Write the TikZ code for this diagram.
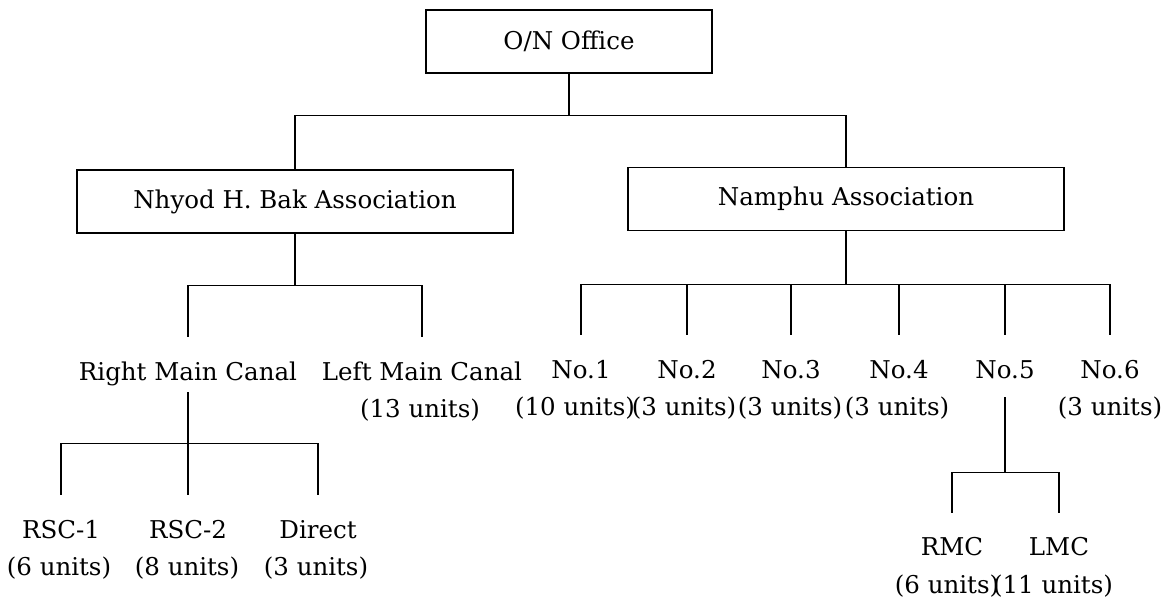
\documentclass[tikz,border=0pt]{standalone}
\usepackage{fontspec}
\setmainfont{DejaVu Serif}
\begin{document}
\begin{tikzpicture}[x=1pt,y=-1pt,
  font=\fontsize{24.5}{29}\selectfont,
  box/.style={draw,line width=1.4pt,minimum height=63pt,inner sep=0pt},
  lbl/.style={anchor=base,inner sep=0pt,text height=19pt,text depth=6pt},
  conn/.style={line width=1.4pt}]
\useasboundingbox[fill=white] (0,0) rectangle (1168,600);

% boxes
\node[box,minimum width=286pt] (on) at (569,41.5) {O/N Office};
\node[box,minimum width=436pt] (nh) at (295,201.5) {Nhyod H. Bak Association};
\node[box,minimum width=436pt] (np) at (846,199) {Namphu Association};

% Nhyod children
\node[lbl] (rmc) at (188,380) {Right Main Canal};
\node[lbl] (lmc) at (422,380) {Left Main Canal};
\node[lbl] (lmcu) at (420,417) {(13 units)};

% RMC children
\node[lbl] (rsc1) at (61,538) {RSC-1};
\node[lbl] (rsc2) at (188,538) {RSC-2};
\node[lbl] (dir) at (318,538) {Direct};
\node[lbl] (rsc1u) at (59,575) {(6 units)};
\node[lbl] (rsc2u) at (187,575) {(8 units)};
\node[lbl] (diru) at (316,575) {(3 units)};

% Namphu children
\node[lbl] (n1) at (581,378) {No.1};
\node[lbl] (n2) at (687,378) {No.2};
\node[lbl] (n3) at (791,378) {No.3};
\node[lbl] (n4) at (899,378) {No.4};
\node[lbl] (n5) at (1005,378) {No.5};
\node[lbl] (n6) at (1110,378) {No.6};
\node[lbl] (n1u) at (575,415) {(10 units)};
\node[lbl] (n2u) at (684,415) {(3 units)};
\node[lbl] (n3u) at (790,415) {(3 units)};
\node[lbl] (n4u) at (897,415) {(3 units)};
\node[lbl] (n6u) at (1110,415) {(3 units)};

% No.5 children
\node[lbl] (rm) at (952,555) {RMC};
\node[lbl] (lm) at (1059,555) {LMC};
\node[lbl] (rmu) at (947,593) {(6 units)};
\node[lbl] (lmu) at (1053,593) {(11 units)};

% connectors
\draw[conn] (on.south) -- ++(0,42) -| (nh.north);
\draw[conn] (on.south) -- ++(0,42) -| (np.north);

\foreach \c in {rmc,lmc}
  \draw[conn] (nh.south) -- ++(0,52) -| ([yshift=24pt]\c.north);

\foreach \c in {rsc1,rsc2,dir}
  \draw[conn] ([yshift=-6pt]rmc.south) -- ++(0,51) -| ([yshift=24pt]\c.north);

\foreach \c in {n1,n2,n3,n4,n5,n6}
  \draw[conn] (np.south) -- ++(0,53) -| ([yshift=24pt]\c.north);

\foreach \c in {rm,lm}
  \draw[conn] ([yshift=-13pt]n5.south) -- ++(0,75) -| ([yshift=23pt]\c.north);
\end{tikzpicture}
\end{document}
